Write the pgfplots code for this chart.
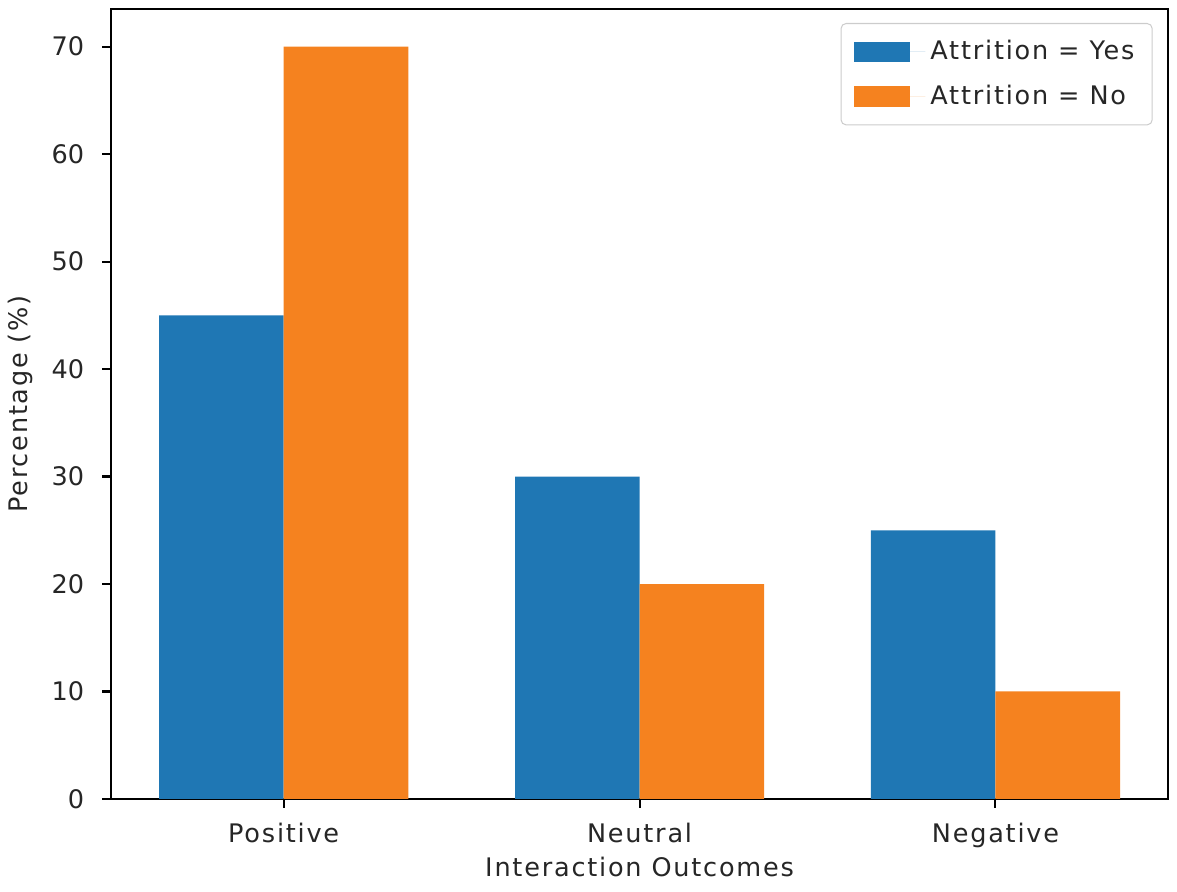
\documentclass[border=0pt]{standalone}
\usepackage{pgfplots}
\pgfplotsset{compat=1.18}
\usepackage{fontspec}
\setmainfont{DejaVu Sans}
\newfontfamily\lbl{DejaVu Sans}[LetterSpace=7]
\definecolor{tabblue}{HTML}{1F77B4}
\definecolor{taborange}{HTML}{F5821F}
\begin{document}
\begin{tikzpicture}
\begin{axis}[
  name=ax,
  scale only axis=true,
  width=413.8pt, height=309.3pt,
  xmin=-0.485, xmax=2.485,
  ymin=0, ymax=73.5,
  xtick={0,1,2},
  xticklabels={Positive,Neutral,Negative},
  ytick={0,10,20,30,40,50,60,70},
  tick align=outside,
  tick pos=left,
  major tick length=3.5pt,
  tick style={black, line width=0.8pt},
  axis line style={line width=0.8pt},
  /pgf/number format/assume math mode=true,
  ticklabel style={font=\fontsize{10pt}{12pt}\selectfont, text=black!85},
  xticklabel style={font=\lbl\fontsize{10pt}{12pt}\selectfont, yshift=-2.4pt},
  yticklabel style={xshift=-3.5pt},
  xlabel={Interaction Outcomes},
  ylabel={Percentage (\%)},
  label style={font=\lbl\fontsize{10pt}{12pt}\selectfont, text=black!85},
  xlabel style={at={(axis description cs:0.5,0)}, anchor=north, yshift=-19.4pt},
  ylabel style={at={([xshift=-35.6pt]axis description cs:0,0.5)}, anchor=center},
  ybar, bar width=0.35, bar shift auto=false,
  legend style={at={(rel axis cs:1,1)}, anchor=north east, xshift=-6pt, yshift=-5.5pt,
    draw=black!20, rounded corners=2pt, font=\lbl\fontsize{10pt}{12pt}\selectfont,
    text=black!85, inner xsep=5pt, inner ysep=4.6pt, row sep=4.3pt,
    cells={anchor=west}},
  legend image code/.code={\fill[#1, sharp corners] (0pt,-4pt) rectangle (22pt,4pt); \path (22pt,0pt) -- (28pt,0pt);},
]
\addplot[fill=tabblue, draw=none, bar shift=-0.175] coordinates {(0,45) (1,30) (2,25)};
\addplot[fill=taborange, draw=none, bar shift=0.175] coordinates {(0,70) (1,20) (2,10)};
\legend{Attrition = Yes, Attrition = No}
\end{axis}
\pgfresetboundingbox
\path ([shift={(-43.5pt,-36.4pt)}]ax.south west) rectangle ([shift={(3.5pt,3.5pt)}]ax.north east);
\end{tikzpicture}
\end{document}
